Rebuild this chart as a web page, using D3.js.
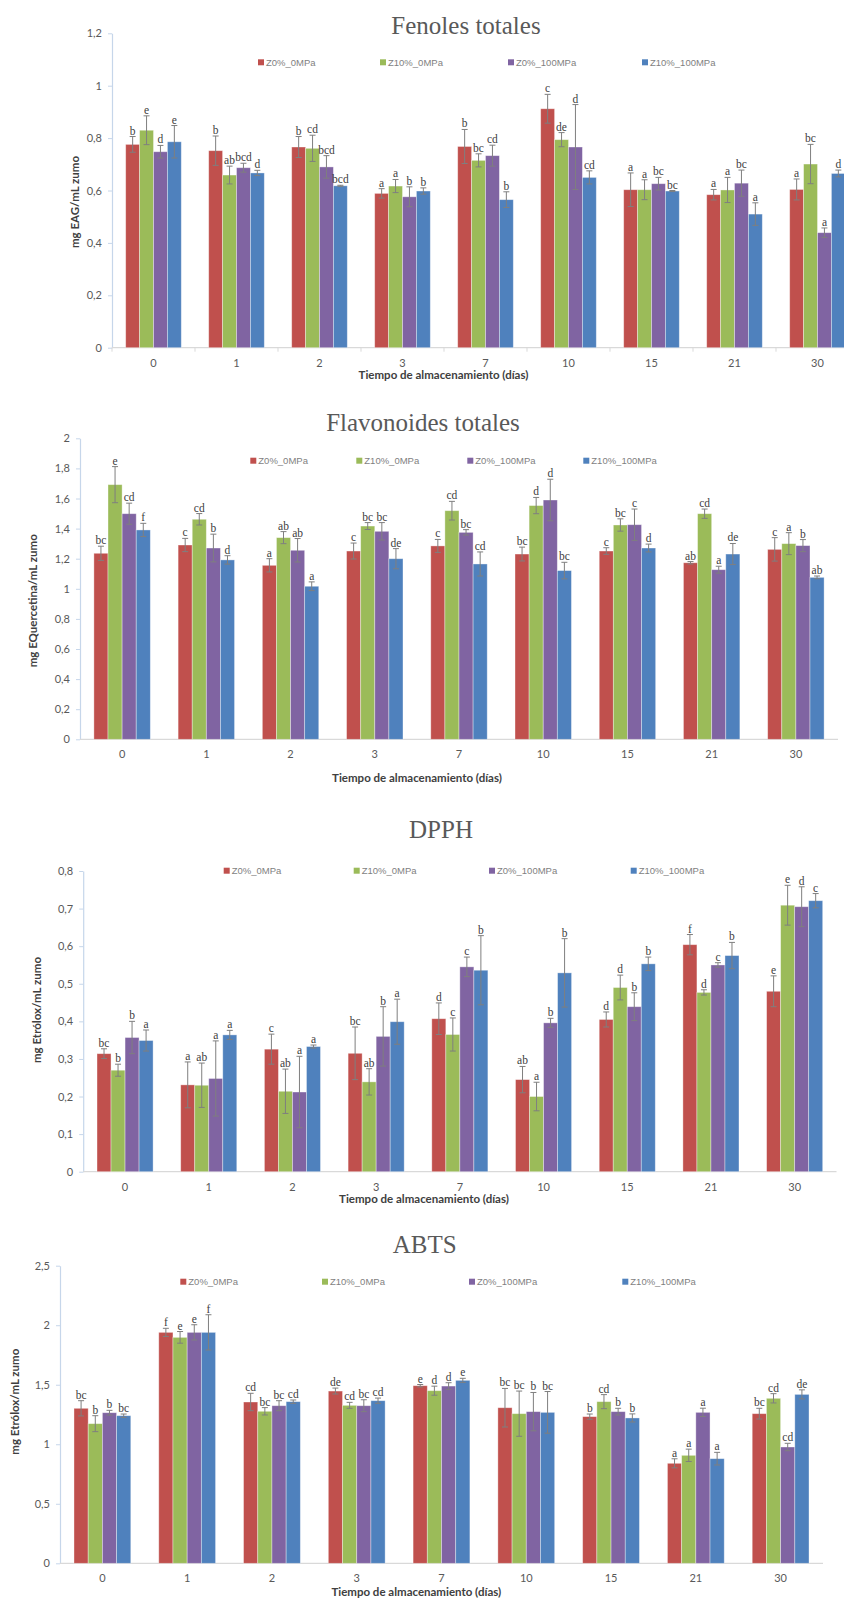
<!DOCTYPE html>
<html>
<head>
<meta charset="utf-8">
<script src="https://cdn.jsdelivr.net/npm/d3@7"></script>
<style>
  html, body { margin: 0; padding: 0; background: #fff; }
  svg { display: block; }
</style>
</head>
<body>
<svg id="chart" width="844" height="1599"></svg>
<script>
// ---------- DATA ----------
const days = ["0", "1", "2", "3", "7", "10", "15", "21", "30"];
const seriesNames = ["Z0%_0MPa", "Z10%_0MPa", "Z0%_100MPa", "Z10%_100MPa"];

// Fenoles totales (mg EAG/mL zumo)
const fenolesValues = [
  [0.776, 0.752, 0.766, 0.589, 0.768, 0.912, 0.603, 0.584, 0.604],
  [0.830, 0.659, 0.761, 0.617, 0.715, 0.794, 0.603, 0.602, 0.701],
  [0.748, 0.687, 0.690, 0.576, 0.733, 0.766, 0.626, 0.628, 0.439],
  [0.786, 0.667, 0.618, 0.598, 0.565, 0.650, 0.598, 0.510, 0.665]
];
const fenolesErrors = [
  [0.030, 0.056, 0.040, 0.018, 0.065, 0.055, 0.064, 0.020, 0.040],
  [0.055, 0.034, 0.050, 0.025, 0.025, 0.027, 0.038, 0.048, 0.075],
  [0.024, 0.017, 0.043, 0.038, 0.040, 0.162, 0.024, 0.050, 0.018],
  [0.062, 0.010, 0.002, 0.012, 0.030, 0.025, 0.002, 0.043, 0.013]
];
const fenolesLetters = [
  ["b", "b", "b", "a", "b", "c", "a", "a", "a"],
  ["e", "ab", "cd", "a", "bc", "de", "a", "a", "bc"],
  ["d", "bcd", "bcd", "b", "cd", "d", "bc", "bc", "a"],
  ["e", "d", "bcd", "b", "b", "cd", "bc", "a", "d"]
];
const fenolesTicks = [0, 0.2, 0.4, 0.6, 0.8, 1, 1.2];

// Flavonoides totales (mg EQuercetina/mL zumo)
const flavValues = [
  [1.236, 1.291, 1.156, 1.251, 1.285, 1.231, 1.251, 1.173, 1.262],
  [1.692, 1.462, 1.340, 1.417, 1.519, 1.553, 1.424, 1.499, 1.300],
  [1.499, 1.271, 1.256, 1.382, 1.375, 1.590, 1.426, 1.127, 1.287],
  [1.391, 1.192, 1.017, 1.200, 1.165, 1.121, 1.271, 1.231, 1.076]
];
const flavErrors = [
  [0.047, 0.044, 0.044, 0.053, 0.043, 0.046, 0.022, 0.008, 0.078],
  [0.120, 0.038, 0.040, 0.023, 0.062, 0.054, 0.041, 0.031, 0.073],
  [0.070, 0.092, 0.078, 0.058, 0.018, 0.138, 0.104, 0.023, 0.040],
  [0.044, 0.028, 0.029, 0.067, 0.080, 0.055, 0.026, 0.070, 0.009]
];
const flavLetters = [
  ["bc", "c", "a", "c", "c", "bc", "c", "ab", "c"],
  ["e", "cd", "ab", "bc", "cd", "d", "bc", "cd", "a"],
  ["cd", "b", "ab", "bc", "bc", "d", "c", "a", "b"],
  ["f", "d", "a", "de", "cd", "bc", "d", "de", "ab"]
];
const flavTicks = [0, 0.2, 0.4, 0.6, 0.8, 1, 1.2, 1.4, 1.6, 1.8, 2];

// DPPH (mg Etrólox/mL zumo)
const dpphValues = [
  [0.314, 0.231, 0.326, 0.315, 0.407, 0.245, 0.405, 0.604, 0.480],
  [0.270, 0.230, 0.214, 0.239, 0.365, 0.200, 0.490, 0.477, 0.709],
  [0.357, 0.248, 0.212, 0.360, 0.545, 0.396, 0.439, 0.550, 0.705],
  [0.349, 0.364, 0.333, 0.399, 0.536, 0.529, 0.553, 0.575, 0.721]
];
const dpphErrors = [
  [0.013, 0.061, 0.040, 0.070, 0.042, 0.035, 0.020, 0.027, 0.041],
  [0.016, 0.059, 0.059, 0.035, 0.044, 0.038, 0.033, 0.007, 0.053],
  [0.043, 0.100, 0.095, 0.079, 0.026, 0.012, 0.037, 0.006, 0.053],
  [0.028, 0.012, 0.004, 0.060, 0.092, 0.091, 0.018, 0.035, 0.019]
];
const dpphLetters = [
  ["bc", "a", "c", "bc", "d", "ab", "d", "f", "e"],
  ["b", "ab", "ab", "ab", "c", "a", "d", "d", "e"],
  ["b", "a", "a", "b", "c", "b", "b", "c", "d"],
  ["a", "a", "a", "a", "b", "b", "b", "b", "c"]
];
const dpphTicks = [0, 0.1, 0.2, 0.3, 0.4, 0.5, 0.6, 0.7, 0.8];

// ABTS (mg Etrólox/mL zumo)
const abtsValues = [
  [1.302, 1.940, 1.355, 1.447, 1.492, 1.307, 1.232, 0.840, 1.257],
  [1.173, 1.898, 1.277, 1.327, 1.450, 1.257, 1.358, 0.907, 1.386],
  [1.265, 1.940, 1.324, 1.324, 1.489, 1.274, 1.274, 1.268, 0.977],
  [1.240, 1.940, 1.358, 1.366, 1.537, 1.268, 1.221, 0.879, 1.419]
];
const abtsErrors = [
  [0.064, 0.034, 0.073, 0.025, 0.010, 0.162, 0.022, 0.038, 0.045],
  [0.067, 0.049, 0.031, 0.025, 0.038, 0.190, 0.059, 0.052, 0.039],
  [0.020, 0.064, 0.042, 0.050, 0.028, 0.161, 0.028, 0.035, 0.031],
  [0.014, 0.148, 0.014, 0.022, 0.017, 0.175, 0.034, 0.053, 0.038]
];
const abtsLetters = [
  ["bc", "f", "cd", "de", "e", "bc", "b", "a", "bc"],
  ["b", "e", "bc", "cd", "d", "bc", "cd", "a", "cd"],
  ["b", "e", "bc", "bc", "d", "b", "b", "a", "cd"],
  ["bc", "f", "cd", "cd", "e", "bc", "b", "a", "de"]
];
const abtsTicks = [0, 0.5, 1, 1.5, 2, 2.5];

const titles = ["Fenoles totales", "Flavonoides totales", "DPPH", "ABTS"];
const yTitles = ["mg EAG/mL zumo", "mg EQuercetina/mL zumo", "mg Etrólox/mL zumo", "mg Etrólox/mL zumo"];
const xTitle = "Tiempo de almacenamiento (días)";

// ---------- STYLE / LAYOUT ----------
const colors = ["#C0504D", "#9BBB59", "#8064A2", "#4F81BD"];

const layouts = [
  { x1: 112, x2: 859, yTop: 33.3, yBot: 347.7, titleX: 466, titleY: 33.5,
    legY: 62.3, legX: [261, 383, 511, 645], yLab: [75, 202], xLab: [443.5, 375],
    xTickMarks: true },
  { x1: 80, x2: 838, yTop: 438.3, yBot: 739.3, titleX: 423, titleY: 430.7,
    legY: 460.7, legX: [253.3, 359.3, 470.3, 586.3], yLab: [33.3, 600.8], xLab: [417, 778.3],
    xTickMarks: false },
  { x1: 83.2, x2: 836.5, yTop: 871, yBot: 1171.7, titleX: 441, titleY: 837.7,
    legY: 870.7, legX: [226.7, 356.7, 492, 633.7], yLab: [36.7, 1010], xLab: [424, 1199.3],
    xTickMarks: false },
  { x1: 60, x2: 823, yTop: 1265.7, yBot: 1563.3, titleX: 424.7, titleY: 1253.3,
    legY: 1281.7, legX: [183.3, 325, 472, 625.3], yLab: [15, 1401.7], xLab: [416.3, 1591.7],
    xTickMarks: false }
];

const panels = [
  { values: fenolesValues, errors: fenolesErrors, letters: fenolesLetters, ticks: fenolesTicks },
  { values: flavValues, errors: flavErrors, letters: flavLetters, ticks: flavTicks },
  { values: dpphValues, errors: dpphErrors, letters: dpphLetters, ticks: dpphTicks },
  { values: abtsValues, errors: abtsErrors, letters: abtsLetters, ticks: abtsTicks }
];

const locale = d3.formatLocale({ decimal: ",", thousands: ".", grouping: [3], currency: ["", ""] });
const fmt = locale.format("~g");

const svg = d3.select("#chart");
svg.append("rect").attr("width", 844).attr("height", 1599).attr("fill", "#fff");

panels.forEach((P, pi) => {
  const L = layouts[pi];
  const g = svg.append("g");
  const ymax = P.ticks[P.ticks.length - 1];
  const y = d3.scaleLinear().domain([0, ymax]).range([L.yBot, L.yTop]);
  const x0 = d3.scaleBand().domain(days).range([L.x1, L.x2]).paddingInner(0.33).paddingOuter(0.165);
  const x1 = d3.scaleBand().domain(seriesNames).range([0, x0.bandwidth()]);

  // title
  g.append("text").attr("x", L.titleX).attr("y", L.titleY)
    .attr("text-anchor", "middle")
    .attr("font-family", "'Liberation Serif', 'DejaVu Serif', serif")
    .attr("font-size", 25).attr("fill", "#595959")
    .text(titles[pi]);

  // y axis
  const yAxis = d3.axisLeft(y).tickValues(P.ticks).tickFormat(fmt).tickSize(4).tickSizeOuter(0).tickPadding(6);
  const ya = g.append("g").attr("transform", `translate(${L.x1},0)`).call(yAxis);
  ya.select(".domain").attr("stroke", "#C6D6EA").attr("stroke-width", 1.2);
  ya.selectAll(".tick line").attr("stroke", "#C6D6EA");
  ya.selectAll(".tick text").attr("fill", "#595959")
    .attr("font-family", "Lato, 'Open Sans', sans-serif").attr("font-size", 11);

  // x axis baseline
  g.append("line").attr("x1", L.x1).attr("x2", L.x2).attr("y1", L.yBot).attr("y2", L.yBot)
    .attr("stroke", "#D9D9D9").attr("stroke-width", 1.2);
  if (L.xTickMarks) {
    d3.range(days.length + 1).forEach(i => {
      const xx = L.x1 + i * x0.step();
      g.append("line").attr("x1", xx).attr("x2", xx).attr("y1", L.yBot).attr("y2", L.yBot + 4)
        .attr("stroke", "#D9D9D9");
    });
  }
  g.selectAll(".xlab").data(days).enter().append("text")
    .attr("x", d => x0(d) + x0.bandwidth() / 2)
    .attr("y", L.yBot + 15).attr("dy", "0.35em")
    .attr("text-anchor", "middle").attr("fill", "#595959")
    .attr("font-family", "Lato, 'Open Sans', sans-serif").attr("font-size", 11)
    .text(d => d);

  // bars
  seriesNames.forEach((s, si) => {
    const gs = g.append("g");
    gs.selectAll("rect").data(days).enter().append("rect")
      .attr("x", d => x0(d) + x1(s))
      .attr("width", x1.bandwidth())
      .attr("y", (d, i) => y(P.values[si][i]))
      .attr("height", (d, i) => L.yBot - y(P.values[si][i]))
      .attr("fill", colors[si])
      .attr("stroke", "#ffffff").attr("stroke-opacity", 0.45).attr("stroke-width", 0.8);

    // error bars
    const ge = g.append("g").attr("stroke", "#7F7F7F").attr("stroke-width", 1);
    days.forEach((d, i) => {
      const cx = x0(d) + x1(s) + x1.bandwidth() / 2;
      const v = P.values[si][i], e = P.errors[si][i];
      ge.append("line").attr("x1", cx).attr("x2", cx).attr("y1", y(v + e)).attr("y2", y(v - e));
      ge.append("line").attr("x1", cx - 3).attr("x2", cx + 3).attr("y1", y(v + e)).attr("y2", y(v + e));
      ge.append("line").attr("x1", cx - 3).attr("x2", cx + 3).attr("y1", y(v - e)).attr("y2", y(v - e));
    });

    // significance letters
    g.append("g").selectAll("text").data(days).enter().append("text")
      .attr("x", d => x0(d) + x1(s) + x1.bandwidth() / 2)
      .attr("y", (d, i) => y(P.values[si][i] + P.errors[si][i]) - 2)
      .attr("text-anchor", "middle")
      .attr("font-family", "'Liberation Serif', 'DejaVu Serif', serif")
      .attr("font-size", 11.5).attr("fill", "#404040")
      .text((d, i) => P.letters[si][i]);
  });

  // legend
  seriesNames.forEach((s, si) => {
    const lx = L.legX[si];
    g.append("rect").attr("x", lx - 3).attr("y", L.legY - 3).attr("width", 6).attr("height", 6)
      .attr("fill", colors[si]);
    g.append("text").attr("x", lx + 5).attr("y", L.legY).attr("dy", "0.35em")
      .attr("font-family", "'Liberation Sans', Arial, sans-serif").attr("font-size", 9.5)
      .attr("fill", "#7F7F7F").text(s);
  });

  // axis titles
  g.append("text")
    .attr("transform", `translate(${L.yLab[0]},${L.yLab[1]}) rotate(-90)`)
    .attr("text-anchor", "middle").attr("dy", "0.35em")
    .attr("font-family", "Lato, 'Open Sans', sans-serif").attr("font-weight", "bold")
    .attr("font-size", 11.5).attr("fill", "#404040")
    .text(yTitles[pi]);
  g.append("text")
    .attr("x", L.xLab[0]).attr("y", L.xLab[1]).attr("dy", "0.35em")
    .attr("text-anchor", "middle")
    .attr("font-family", "Lato, 'Open Sans', sans-serif").attr("font-weight", "bold")
    .attr("font-size", 11.5).attr("fill", "#404040")
    .text(xTitle);
});
</script>
</body>
</html>
